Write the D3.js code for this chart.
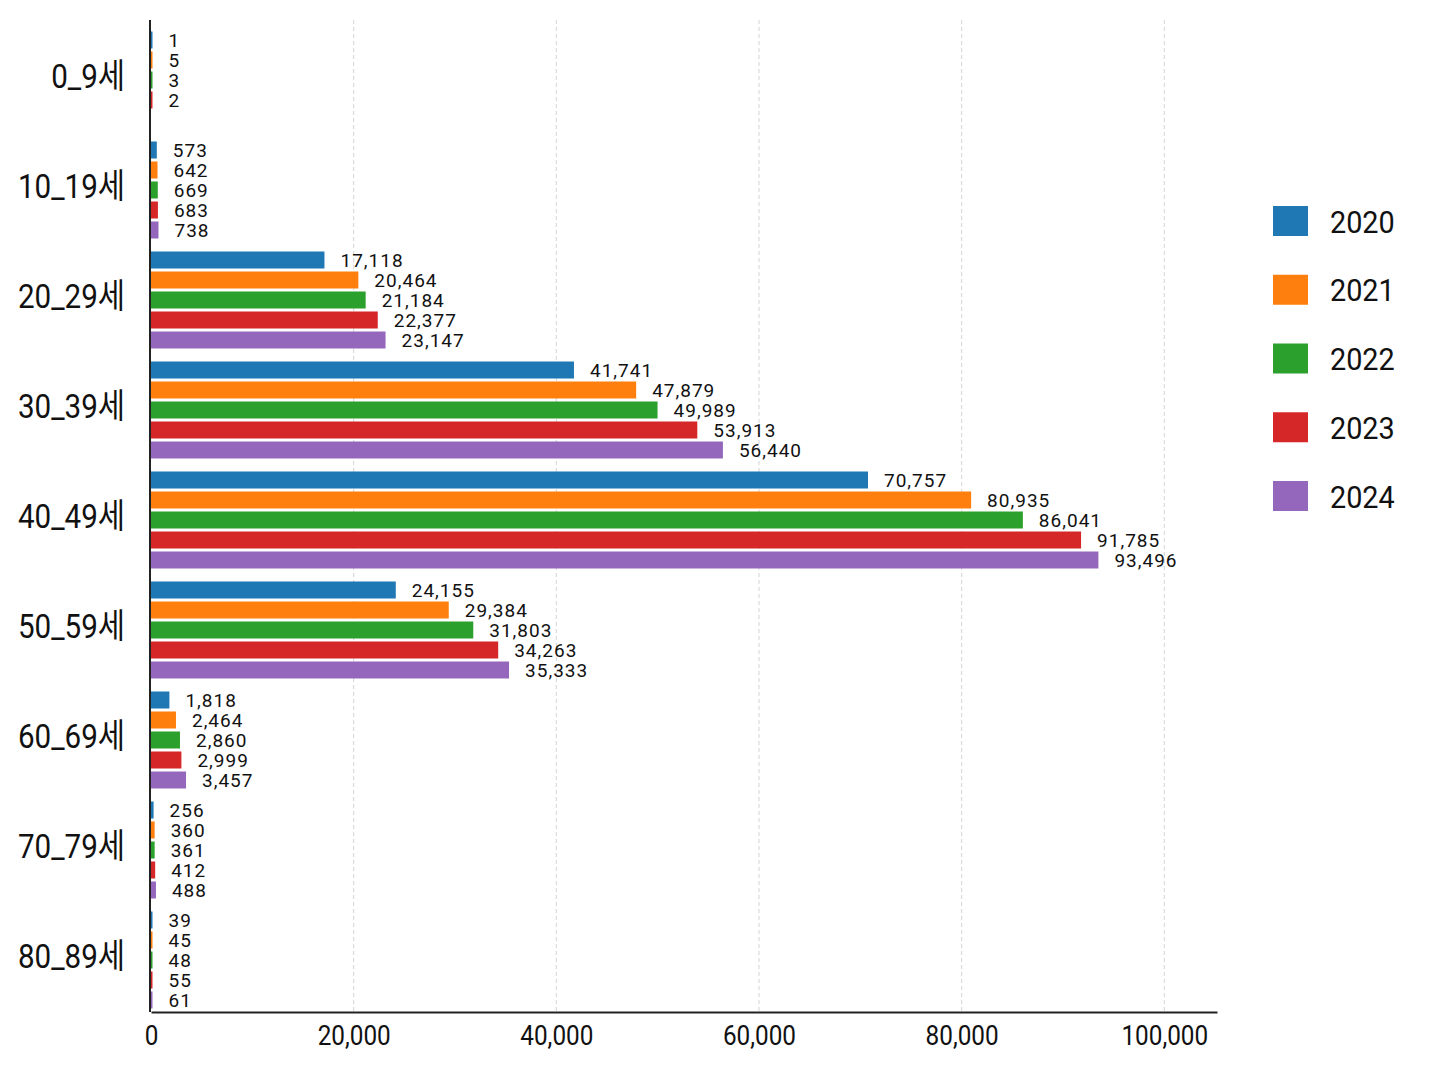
<!DOCTYPE html>
<html>
<head>
<meta charset="utf-8">
<script src="https://cdn.jsdelivr.net/npm/d3@7"></script>
<style>
	body { margin: 0; background: #fff; }
	svg { display: block; }
</style>
</head>
<body>
<div id="svg-container"></div>
<script>
// age groups and yearly values
var ages = ["0_9세", "10_19세", "20_29세", "30_39세", "40_49세", "50_59세", "60_69세", "70_79세", "80_89세"];
var years = ["2020", "2021", "2022", "2023", "2024"];

var values2020 = [1, 573, 17118, 41741, 70757, 24155, 1818, 256, 39];
var values2021 = [5, 642, 20464, 47879, 80935, 29384, 2464, 360, 45];
var values2022 = [3, 669, 21184, 49989, 86041, 31803, 2860, 361, 48];
var values2023 = [2, 683, 22377, 53913, 91785, 34263, 2999, 412, 55];
var values2024 = [null, 738, 23147, 56440, 93496, 35333, 3457, 488, 61];

var xTicks = [0, 20000, 40000, 60000, 80000, 100000];
var colors = ["#1f77b4", "#ff7f0e", "#2ca02c", "#d62728", "#9467bd"];

var series = [values2020, values2021, values2022, values2023, values2024];

var w = 1448;
var h = 1086;
var labelFont = "Roboto, 'Noto Sans CJK KR', sans-serif";

var svg = d3.select("#svg-container").append("svg")
	.attr("width", w)
	.attr("height", h);

var x = d3.scaleLinear()
	.domain([0, 105200])
	.range([151, 1217]);

var y0 = d3.scaleBand()
	.domain(ages)
	.range([26, 1016])
	.paddingInner(0.1)
	.paddingOuter(0.05);

var y1 = d3.scaleBand()
	.domain(years)
	.range([0, 97])
	.paddingInner(0.15);

var color = d3.scaleOrdinal()
	.domain(years)
	.range(colors);

var fmt = d3.format(",");

// squeeze text a bit, the labels in the picture are narrow
function condense (sel, k) {
	sel.each(function () {
		var len = this.getComputedTextLength();
		d3.select(this)
			.attr("textLength", len * k)
			.attr("lengthAdjust", "spacingAndGlyphs");
	});
}

// flatten into rows, skip missing values
var rows = [];
ages.forEach(function (age, i) {
	years.forEach(function (yr, j) {
		if (series[j][i] == null) {return;}
		rows.push({age: age, year: yr, value: series[j][i]});
	});
});

// dashed grid
svg.append("g")
	.selectAll("line")
	.data(xTicks.slice(1))
	.enter()
	.append("line")
	.attr("x1", function (d) { return x(d); })
	.attr("x2", function (d) { return x(d); })
	.attr("y1", 20)
	.attr("y2", 1012)
	.attr("stroke", "#d4d4d4")
	.attr("stroke-width", 1)
	.attr("stroke-dasharray", "4,3");

svg.append("g")
	.selectAll("rect")
	.data(rows)
	.enter()
	.append("rect")
	.attr("x", x(0))
	.attr("y", function (d) { return y0(d.age) + y1(d.year); })
	.attr("width", function (d) { return Math.max(1.5, x(d.value) - x(0)); })
	.attr("height", y1.bandwidth())
	.attr("fill", function (d) { return color(d.year); });

svg.append("g")
	.selectAll("text")
	.data(rows)
	.enter()
	.append("text")
	.attr("x", function (d) { return Math.max(x(d.value), x(0) + 1.5) + 16; })
	.attr("y", function (d) { return y0(d.age) + y1(d.year) + y1.bandwidth()/2; })
	.attr("dy", "0.36em")
	.attr("font-family", "Roboto, sans-serif")
	.attr("font-size", 19)
	.attr("letter-spacing", 1)
	.attr("fill", "#111")
	.text(function (d) { return fmt(d.value); });

// x axis
var xAxis = svg.append("g")
	.attr("transform", "translate(0,1012)")
	.call(d3.axisBottom(x).tickValues(xTicks).tickSize(0).tickPadding(14).tickFormat(fmt));

xAxis.select(".domain")
	.attr("stroke", "#222")
	.attr("stroke-width", 2);

xAxis.selectAll("text")
	.attr("font-family", labelFont)
	.attr("font-size", 27)
	.attr("fill", "#111")
	.call(condense, 0.9);

// y axis
var yAxis = svg.append("g")
	.attr("transform", "translate(150,0)")
	.call(d3.axisLeft(y0).tickSize(0).tickPadding(25).tickSizeOuter(0));

yAxis.select(".domain")
	.attr("d", "M0,20V1012")
	.attr("stroke", "#222")
	.attr("stroke-width", 2);

yAxis.selectAll("text")
	.attr("font-family", labelFont)
	.attr("font-size", 34)
	.attr("dy", "0.2em")
	.attr("fill", "#111")
	.call(condense, 0.87);

// legend
var legend = svg.append("g")
	.selectAll("g")
	.data(years)
	.enter()
	.append("g")
	.attr("transform", function (d, i) {
		return "translate(1273," + (221 + i*68.75) + ")";
	});

legend.append("rect")
	.attr("y", -15)
	.attr("width", 35)
	.attr("height", 30)
	.attr("fill", function (d) { return color(d); });

legend.append("text")
	.attr("x", 57)
	.attr("dy", "0.36em")
	.attr("font-family", labelFont)
	.attr("font-size", 32)
	.attr("fill", "#111")
	.text(function (d) { return d; })
	.call(condense, 0.9);
</script>
</body>
</html>
